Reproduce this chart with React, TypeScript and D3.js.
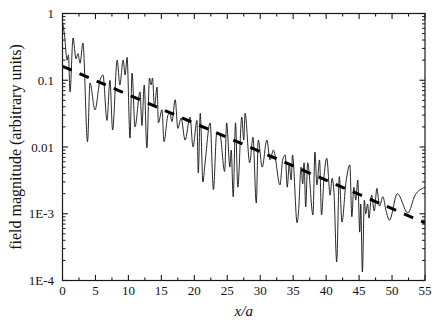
import React from "react";
import * as d3 from "d3";

const positions = [
  0.0, 0.3, 0.7, 0.9, 1.14, 1.6, 2.05, 2.35, 2.66, 3.1, 3.8, 4.17, 4.93, 5.69, 6.14, 6.75, 7.2, 7.6, 8.3, 8.7,
  9.2, 9.5, 9.8, 10.24, 10.55, 11.0, 11.76, 12.05, 12.4, 12.8, 13.2, 13.45, 13.65, 13.95, 14.35, 14.55, 15.1, 15.4, 16.0, 16.3,
  16.6, 17.1, 17.5, 18.0, 18.6, 19.35, 19.8, 20.4, 20.6, 20.9, 21.3, 21.6, 22.4, 22.9, 23.4, 23.9, 24.6, 24.9, 25.4, 25.6,
  25.9, 26.25, 26.6, 27.2, 27.5, 27.7, 28.4, 28.9, 29.4, 29.7, 30.3, 31.0, 31.5, 32.0, 33.0, 33.4, 33.8, 34.1, 34.4, 34.7,
  34.9, 35.6, 35.8, 36.2, 36.45, 36.65, 36.9, 37.2, 38.0, 38.3, 38.6, 39.0, 39.3, 39.7, 40.1, 40.6, 40.9, 41.2, 41.6, 42.0,
  42.4, 43.0, 43.6, 43.9, 44.2, 44.5, 44.8, 45.1, 45.25, 45.5, 45.8, 46.0, 46.3, 46.5, 46.9, 47.3, 47.7, 48.1, 48.6, 49.1,
  49.6, 50.8, 52.4, 53.5, 55.0,
];

const magnitudes = [
  0.75, 0.48, 0.2, 0.24, 0.067, 0.43, 0.21, 0.25, 0.18, 0.36, 0.012, 0.091, 0.036, 0.1, 0.12, 0.025, 0.1, 0.018, 0.2, 0.085,
  0.2, 0.12, 0.22, 0.0136, 0.128, 0.02, 0.067, 0.021, 0.085, 0.0097, 0.108, 0.085, 0.108, 0.04, 0.079, 0.023, 0.036, 0.012, 0.03, 0.032,
  0.024, 0.051, 0.019, 0.027, 0.0127, 0.028, 0.01, 0.025, 0.0041, 0.032, 0.003, 0.0054, 0.023, 0.0023, 0.016, 0.015, 0.0043, 0.023, 0.005, 0.009,
  0.0018, 0.023, 0.0025, 0.028, 0.0127, 0.032, 0.0058, 0.014, 0.00145, 0.0127, 0.005, 0.0127, 0.0064, 0.009, 0.0027, 0.0064, 0.0076, 0.0025, 0.0054, 0.0032,
  0.0076, 0.00073, 0.00103, 0.005, 0.0028, 0.0058, 0.00126, 0.0058, 0.00096, 0.0084, 0.0027, 0.0064, 0.00096, 0.0038, 0.0068, 0.0019, 0.0034, 0.002, 0.00019, 0.0036,
  0.00075, 0.0029, 0.0054, 0.0009, 0.0025, 0.0016, 0.0032, 0.00053, 0.0014, 0.000134, 0.0016, 0.001, 0.0014, 0.00086, 0.0019, 0.0011, 0.0024, 0.0013, 0.0018, 0.0011,
  0.0008, 0.002, 0.00103, 0.0019, 0.0025,
];

// exponential fit (dashed line) endpoints
const fitX = [0, 55];
const fitY = [0.162, 0.00073];

const xMajorTicks = [0, 5, 10, 15, 20, 25, 30, 35, 40, 45, 50, 55];
const xMinorTicks = [2.5, 7.5, 12.5, 17.5, 22.5, 27.5, 32.5, 37.5, 42.5, 47.5, 52.5];
const yMajorTicks = [1e-4, 1e-3, 1e-2, 1e-1, 1];
const yTickLabels = ["1E-4", "1E-3", "0.01", "0.1", "1"];
const yMinorMultipliers = [2, 3, 4, 5, 6, 7, 8, 9];

const W = 436;
const H = 323;
const left = 62.5;
const right = 425;
const top = 13.5;
const bottom = 280.5;

export default function App() {
  const x = d3.scaleLinear().domain([0, 55]).range([left, right]);
  const y = d3.scaleLog().domain([1e-4, 1]).range([bottom, top]);

  const pts: [number, number][] = positions.map((p, i) => [p, magnitudes[i]]);
  const line = d3
    .line<[number, number]>()
    .x((d) => x(d[0]))
    .y((d) => y(d[1]))
    .curve(d3.curveMonotoneX);

  const fitLine = d3
    .line<number>()
    .x((d) => x(fitX[d]))
    .y((d) => y(fitY[d]));

  const yMinor: number[] = [];
  yMajorTicks.slice(0, -1).forEach((d) => yMinorMultipliers.forEach((m) => yMinor.push(d * m)));

  const font = "Liberation Serif";
  const axisColor = "#1a1a1a";
  const major = 5.5;
  const minor = 3;

  return (
    <svg width={W} height={H} style={{ position: "absolute", left: 0, top: 0, background: "#fff" }}>
      <defs>
        <clipPath id="plotclip">
          <rect x={left} y={top} width={right - left} height={bottom - top} />
        </clipPath>
      </defs>
      <rect x={0} y={0} width={W} height={H} fill="#fff" />
      <g clipPath="url(#plotclip)">
        <path d={line(pts) || ""} fill="none" stroke="#111" strokeWidth={0.9} strokeLinejoin="round" />
        <path
          d={fitLine([0, 1]) || ""}
          fill="none"
          stroke="#000"
          strokeWidth={3}
          strokeDasharray="10 8.6"
        />
      </g>
      {/* frame */}
      <rect x={left} y={top} width={right - left} height={bottom - top} fill="none" stroke={axisColor} strokeWidth={1.2} />
      {/* x ticks */}
      {xMajorTicks.map((t) => (
        <g key={"xm" + t}>
          <line x1={x(t)} x2={x(t)} y1={bottom} y2={bottom - major} stroke={axisColor} strokeWidth={1.1} />
          <line x1={x(t)} x2={x(t)} y1={top} y2={top + major} stroke={axisColor} strokeWidth={1.1} />
          <text x={x(t)} y={295} textAnchor="middle" fontFamily={font} fontSize={13} fill="#111">
            {t}
          </text>
        </g>
      ))}
      {xMinorTicks.map((t) => (
        <g key={"xn" + t}>
          <line x1={x(t)} x2={x(t)} y1={bottom} y2={bottom - minor} stroke={axisColor} strokeWidth={1.1} />
          <line x1={x(t)} x2={x(t)} y1={top} y2={top + minor} stroke={axisColor} strokeWidth={1.1} />
        </g>
      ))}
      {/* y ticks */}
      {yMajorTicks.map((t, i) => (
        <g key={"ym" + t}>
          <line x1={left} x2={left + major} y1={y(t)} y2={y(t)} stroke={axisColor} strokeWidth={1.1} />
          <line x1={right} x2={right - major} y1={y(t)} y2={y(t)} stroke={axisColor} strokeWidth={1.1} />
          <text x={54} y={y(t) + 4.5} textAnchor="end" fontFamily={font} fontSize={13} fill="#111">
            {yTickLabels[i]}
          </text>
        </g>
      ))}
      {yMinor.map((t) => (
        <g key={"yn" + t}>
          <line x1={left} x2={left + minor} y1={y(t)} y2={y(t)} stroke={axisColor} strokeWidth={1} />
          <line x1={right} x2={right - minor} y1={y(t)} y2={y(t)} stroke={axisColor} strokeWidth={1} />
        </g>
      ))}
      {/* axis titles */}
      <text
        x={(left + right) / 2}
        y={316}
        textAnchor="middle"
        fontFamily={font}
        fontStyle="italic"
        fontSize={15}
        fill="#111"
      >
        x/a
      </text>
      <text
        transform={`translate(20.5, ${(top + bottom) / 2}) rotate(-90)`}
        textAnchor="middle"
        fontFamily={font}
        fontSize={16}
        fill="#111"
      >
        field magnitude (arbitrary units)
      </text>
    </svg>
  );
}
